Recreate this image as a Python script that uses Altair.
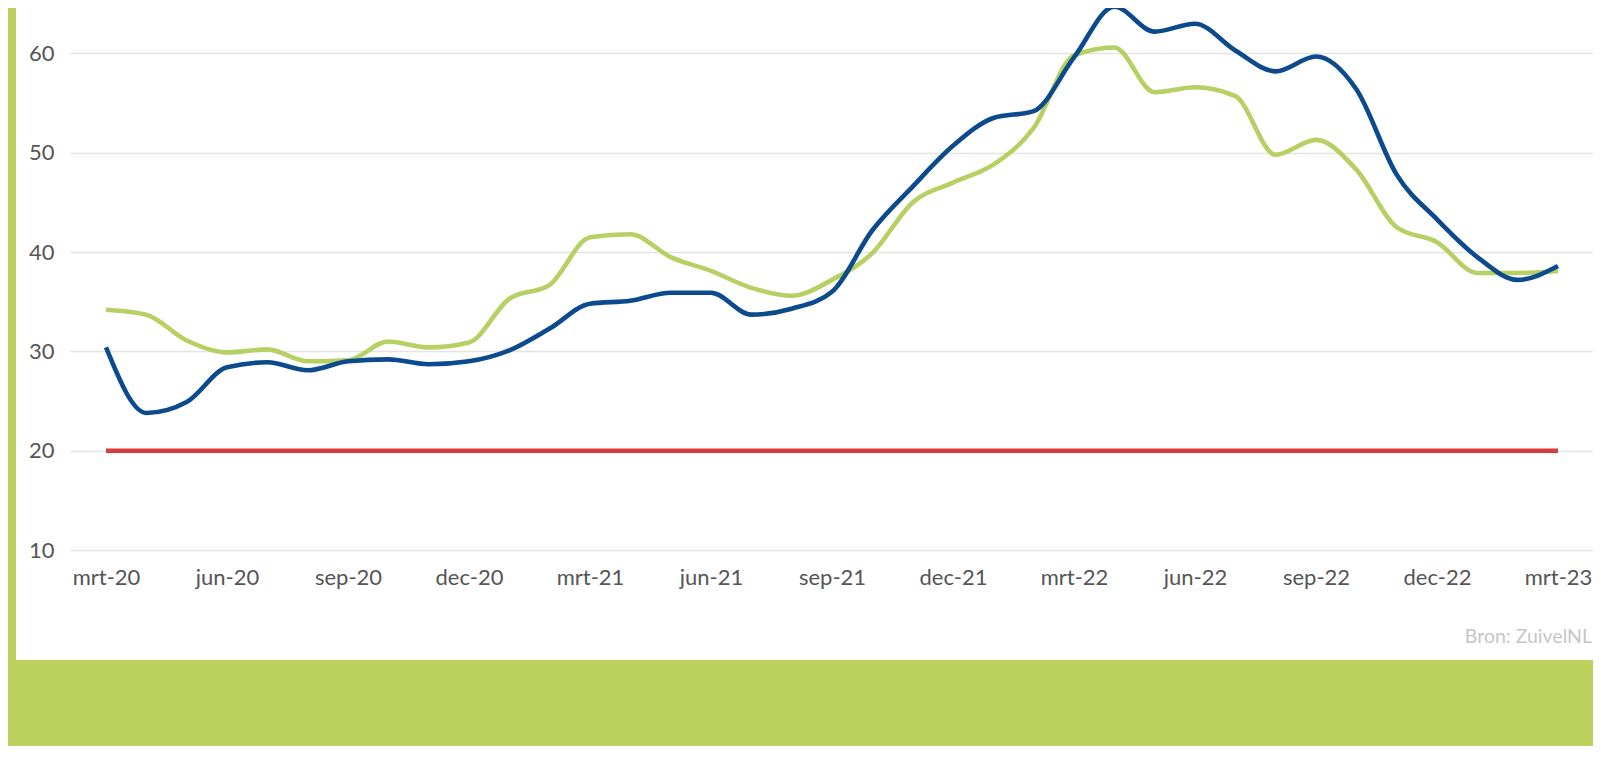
import json
import altair as alt
import pandas as pd

# ---- data ----
months = list(range(37))  # mrt-20 ... mrt-23, monthly
blue = [30.4, 23.8, 24.9, 28.4, 28.9, 28.1, 29.0, 29.2, 28.7, 29.0,
        30.1, 32.3, 34.8, 35.1, 35.9, 35.9, 33.7, 34.3, 36.0, 42.2,
        46.6, 50.7, 53.5, 54.2, 59.6, 64.7, 62.2, 63.0, 60.3, 58.2,
        59.7, 56.4, 47.8, 43.3, 39.5, 37.2, 38.6]
green = [34.2, 33.7, 31.1, 29.9, 30.2, 29.0, 29.1, 31.0, 30.4, 30.9,
         35.3, 36.7, 41.5, 41.8, 39.5, 38.1, 36.4, 35.6, 37.2, 39.9,
         45.0, 47.0, 48.8, 52.5, 59.8, 60.6, 56.1, 56.6, 55.7, 49.8,
         51.3, 48.3, 42.5, 41.0, 37.9, 37.9, 38.1]
red = [20.0] * 37
tick_labels = ["mrt-20", "jun-20", "sep-20", "dec-20", "mrt-21", "jun-21",
               "sep-21", "dec-21", "mrt-22", "jun-22", "sep-22", "dec-22",
               "mrt-23"]
y_ticks = [10, 20, 30, 40, 50, 60]
source_text = "Bron: ZuivelNL"

series_names = ["rood", "groen", "blauw"]
series_colors = ["#d83a3a", "#b6d063", "#0b4a8c"]

rows = []
for name, vals in zip(series_names, [red, green, blue]):
    for m, v in zip(months, vals):
        rows.append({"maand": m, "waarde": v, "reeks": name})
df = pd.DataFrame(rows)

W, H = 1523, 542
FONT = "Lato"
BG_GREEN = "#bdd15e"

x_scale = alt.Scale(domain=[-0.893, 36.868], nice=False, zero=False)
y_scale = alt.Scale(domain=[10, 64.58], nice=False, zero=False)

label_expr = json.dumps(tick_labels) + "[round(datum.value / 3)]"

lines = alt.Chart(df).mark_line(
    strokeWidth=4.6, interpolate="monotone", clip=False
).encode(
    x=alt.X("maand:Q", scale=x_scale,
            axis=alt.Axis(values=list(range(0, 37, 3)), labelExpr=label_expr,
                          grid=False, ticks=False, domain=False,
                          labelFontSize=22, labelFont=FONT, labelColor="#555555",
                          labelPadding=17, title=None, labelFlush=False)),
    y=alt.Y("waarde:Q", scale=y_scale,
            axis=alt.Axis(values=y_ticks, grid=True, gridColor="#e4e4e4",
                          gridWidth=1.6, ticks=False, domain=False,
                          labelFontSize=22, labelFont=FONT, labelColor="#555555",
                          labelPadding=16, title=None)),
    color=alt.Color("reeks:N",
                    scale=alt.Scale(domain=series_names, range=series_colors),
                    legend=None),
    order=alt.Order("reeks_order:Q"),
    detail="reeks:N",
).transform_calculate(
    reeks_order="indexof(['rood','groen','blauw'], datum.reeks)"
)

deco = pd.DataFrame({"k": [0]})
left_strip = alt.Chart(deco).mark_rect(color=BG_GREEN).encode(
    x=alt.value(-62), x2=alt.value(-54), y=alt.value(-10), y2=alt.value(760)
)
bottom_strip = alt.Chart(deco).mark_rect(color=BG_GREEN).encode(
    x=alt.value(-62), x2=alt.value(W + 10), y=alt.value(652), y2=alt.value(760)
)
source = alt.Chart(pd.DataFrame({"t": [source_text]})).mark_text(
    align="right", baseline="alphabetic", font=FONT, fontSize=19.5,
    color="#c6c6c6"
).encode(text="t:N", x=alt.value(1522), y=alt.value(635))

chart = alt.layer(lines, source, left_strip, bottom_strip).properties(
    width=W, height=H,
    autosize=alt.AutoSizeParams(type="none"),
    padding={"left": 62, "top": 0, "right": 0, "bottom": 196},
    background="white",
).configure_view(stroke=None)

chart.save("out.html", embed_options={"renderer": "svg", "actions": False})
